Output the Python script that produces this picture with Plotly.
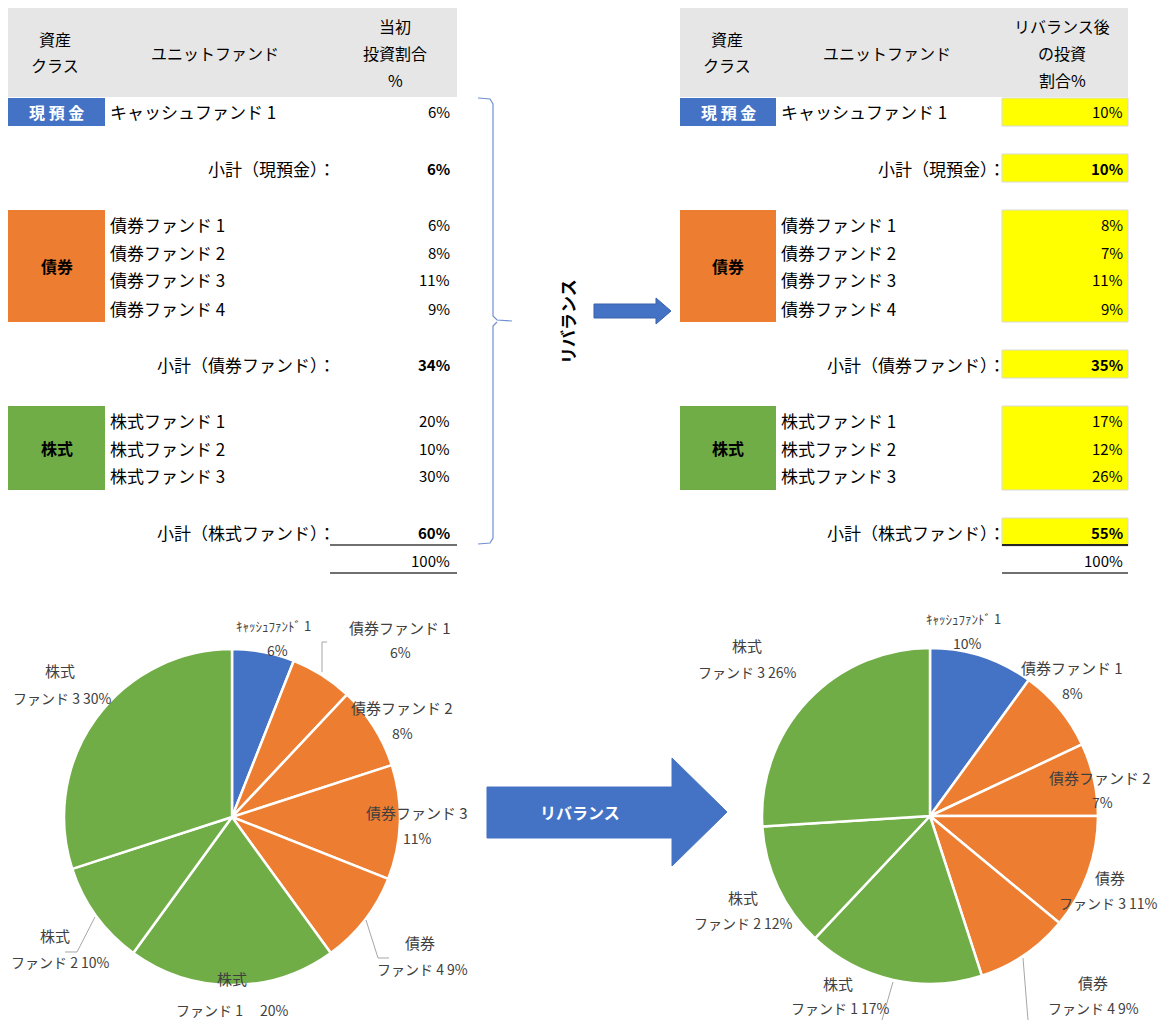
import plotly.graph_objects as go

# ---------------- data ----------------
asset_classes = ["現預金", "債券", "株式"]
class_colors = ["#4472C4", "#ED7D31", "#70AD47"]
funds = ["キャッシュファンド 1", "債券ファンド 1", "債券ファンド 2", "債券ファンド 3",
         "債券ファンド 4", "株式ファンド 1", "株式ファンド 2", "株式ファンド 3"]
fund_class = [0, 1, 1, 1, 1, 2, 2, 2]
initial_pct = [6, 6, 8, 11, 9, 20, 10, 30]
after_pct = [10, 8, 7, 11, 9, 17, 12, 26]
subtotal_labels = ["小計（現預金）：", "小計（債券ファンド）：", "小計（株式ファンド）："]
pie_class_names = ["", "債券", "債券", "債券", "債券", "株式", "株式", "株式"]
pie_fund_names = ["ｷｬｯｼｭﾌｧﾝﾄﾞ 1", "ファンド 1", "ファンド 2", "ファンド 3",
                  "ファンド 4", "ファンド 1", "ファンド 2", "ファンド 3"]
header_left = [["資産", "クラス"], ["ユニットファンド"], ["当初", "投資割合", "%"]]
header_right = [["資産", "クラス"], ["ユニットファンド"], ["リバランス後", "の投資", "割合%"]]
arrow_text = "リバランス"

W, H = 1169, 1020
OFF = 8  # page body margin
FONT = "Noto Sans CJK JP"


def X(x):
    return (x - OFF) / W


def Y(y):
    return 1 - (y - OFF) / H


shapes = []
annotations = []


def rect(x0, y0, x1, y1, color, line_color=None):
    shapes.append(dict(type="rect", xref="paper", yref="paper",
                       x0=X(x0), x1=X(x1), y0=Y(y1), y1=Y(y0),
                       fillcolor=color, line=dict(width=1 if line_color else 0,
                                                  color=line_color or color),
                       layer="below"))


def line(x0, y0, x1, y1, color="#404040", width=1.5):
    shapes.append(dict(type="line", xref="paper", yref="paper",
                       x0=X(x0), x1=X(x1), y0=Y(y0), y1=Y(y1),
                       line=dict(color=color, width=width)))


def path(pts, fill=None, color="#4472C4", width=1.2, closed=False):
    d = "M " + " L ".join(f"{X(px):.5f},{Y(py):.5f}" for px, py in pts)
    if closed:
        d += " Z"
    s = dict(type="path", xref="paper", yref="paper", path=d,
             line=dict(color=color, width=width))
    if fill:
        s["fillcolor"] = fill
    shapes.append(s)


def text(t, x, y, size=15, color="black", bold=False, xanchor="center", angle=0):
    if bold:
        t = f"<b>{t}</b>"
    annotations.append(dict(text=t, x=X(x), y=Y(y), xref="paper", yref="paper",
                            xanchor=xanchor, yanchor="middle", showarrow=False,
                            textangle=angle,
                            font=dict(family=FONT, size=size, color=color)))


# ---------------- tables ----------------
ROW0, RH = 98, 28
class_rows = [[0], [4, 5, 6, 7], [11, 12, 13]]
subtotal_rows = [2, 9, 15]
total_row = 16


def row_y(r):
    return ROW0 + RH * r + RH / 2


def draw_table(cfg, values, header, highlight):
    hx0, hx1 = cfg["hx"]
    rect(hx0, 8, hx1, 97, "#E7E6E6")
    col_centers = cfg["hcols"]
    for ci, lines in enumerate(header):
        n = len(lines)
        ys = {1: [53], 2: [39, 65], 3: [26, 53, 80]}[n]
        for ln, yy in zip(lines, ys):
            text(ln, col_centers[ci], yy, size=16)
    cx0, cx1 = cfg["cbox"]
    vx0, vx1 = cfg["vbox"]
    fund_i = 0
    for k, rows in enumerate(class_rows):
        top = ROW0 + RH * rows[0]
        bot = ROW0 + RH * (rows[-1] + 1)
        rect(cx0, top, cx1, bot, class_colors[k])
        txt = asset_classes[k]
        if k == 0:
            txt = " ".join(txt)
        text(txt, (cx0 + cx1) / 2, (top + bot) / 2, size=16,
             color="white" if k == 0 else "black", bold=True)
        if highlight:
            rect(vx0, top, vx1, bot, "#FFFF00", "#D9D9D9")
        for r in rows:
            text(funds[fund_i], cfg["fx"], row_y(r), size=17, xanchor="left")
            text(f"{values[fund_i]}%", cfg["vx"], row_y(r), size=15, xanchor="right")
            fund_i += 1
        sr = subtotal_rows[k]
        sub = sum(values[i] for i in range(len(values)) if fund_class[i] == k)
        if highlight:
            rect(vx0, ROW0 + RH * sr, vx1, ROW0 + RH * (sr + 1), "#FFFF00", "#D9D9D9")
        text(subtotal_labels[k], cfg["sx"], row_y(sr), size=17, xanchor="right")
        text(f"{sub}%", cfg["vx"], row_y(sr), size=15, xanchor="right", bold=True)
    total = sum(values)
    line(vx0 if highlight else cfg["lx"], 545, vx1, 545,
         color="#262626" if highlight else "#404040", width=2 if highlight else 1.5)
    text(f"{total}%", cfg["vx"], row_y(total_row), size=15, xanchor="right")
    line(vx0 if highlight else cfg["lx"], 573, vx1, 573, color="#404040", width=1.5)


left_cfg = dict(hx=(8, 457), hcols=(55, 215, 395), cbox=(8, 105), vbox=(330, 457),
                fx=108, vx=452, sx=338, lx=330)
right_cfg = dict(hx=(680, 1128), hcols=(727, 887, 1062), cbox=(680, 776), vbox=(1002, 1128),
                 fx=779, vx=1125, sx=1008, lx=1002)
draw_table(left_cfg, initial_pct, header_left, False)
draw_table(right_cfg, after_pct, header_right, True)

# bracket + vertical text + small arrow
path([(478, 98), (490, 99), (493, 104), (493, 316), (497, 320), (512, 321)], color="#6F8FCF", width=1.2)
path([(497, 322), (493, 326), (493, 538), (490, 543), (478, 544)], color="#6F8FCF", width=1.2)
text(arrow_text, 567, 322, size=17, bold=True, angle=-90)
path([(594, 304), (656, 304), (656, 298), (671, 311), (656, 324), (656, 318), (594, 318)],
     fill="#4472C4", color="#3A62AA", width=1, closed=True)

# big arrow
path([(487, 787), (672, 787), (672, 758), (727, 812), (672, 866), (672, 838), (487, 838)],
     fill="#4472C4", color="#4472C4", width=1, closed=True)
text(arrow_text, 580, 812, size=16, color="white", bold=True)

# ---------------- pies ----------------
colors = [class_colors[c] for c in fund_class]


def pie(values, cx, cy, r):
    return go.Pie(values=values, labels=funds, sort=False, direction="clockwise",
                  rotation=0, textinfo="none", showlegend=False,
                  marker=dict(colors=colors, line=dict(color="white", width=2.5)),
                  domain=dict(x=[X(cx - r), X(cx + r)], y=[Y(cy + r), Y(cy - r)]),
                  hovertemplate="%{label}: %{value}%<extra></extra>")


fig = go.Figure([pie(initial_pct, 232, 817, 168), pie(after_pct, 930, 816, 168)])

# label placement: (mode, (x1,y1), (x2,y2)); 'np' = name / pct ; 'cs' = class / fund+pct
left_label_pos = [("np", (273, 625), (277, 650)), ("np", (400, 627), (400, 652)),
                  ("np", (402, 707), (402, 733)), ("np", (417, 812), (417, 838)),
                  ("cs", (420, 942), (422, 969)), ("cs", (232, 978), (232, 1010)),
                  ("cs", (55, 935), (60, 962)), ("cs", (60, 670), (62, 698))]
right_label_pos = [("np", (963, 618), (967, 643)), ("np", (1072, 667), (1072, 693)),
                   ("np", (1100, 777), (1102, 802)), ("cs", (1110, 877), (1108, 903)),
                   ("cs", (1093, 982), (1093, 1008)), ("cs", (838, 983), (840, 1008)),
                   ("cs", (743, 897), (743, 923)), ("cs", (747, 645), (747, 672))]

PC = "#404040"


def pie_labels(values, pos, wide_gap_idx=None):
    for i, (mode, p1, p2) in enumerate(pos):
        if mode == "np":
            size1 = 13 if i == 0 else 15
            text(pie_class_names[i] + pie_fund_names[i], p1[0], p1[1], size=size1, color=PC)
            text(f"{values[i]}%", p2[0], p2[1], size=14, color=PC)
        else:
            gap = "　 " if i == wide_gap_idx else " "
            text(pie_class_names[i], p1[0], p1[1], size=15, color=PC)
            text(f"{pie_fund_names[i]}{gap}{values[i]}%", p2[0], p2[1], size=14, color=PC)


pie_labels(initial_pct, left_label_pos, wide_gap_idx=5)
pie_labels(after_pct, right_label_pos)

# leader lines
LC = "#A6A6A6"
path([(327, 642), (322, 642), (322, 672)], color=LC, width=1)
path([(366, 920), (378, 958), (389, 958)], color=LC, width=1)
path([(95, 917), (77, 952), (65, 952)], color=LC, width=1)
path([(1023, 958), (1028, 1020)], color=LC, width=1)
path([(893, 982), (882, 1020)], color=LC, width=1)

fig.update_layout(width=W, height=H, margin=dict(l=0, r=0, t=0, b=0),
                  paper_bgcolor="white", plot_bgcolor="white",
                  shapes=shapes, annotations=annotations,
                  font=dict(family=FONT))
fig.write_html("out.html")
